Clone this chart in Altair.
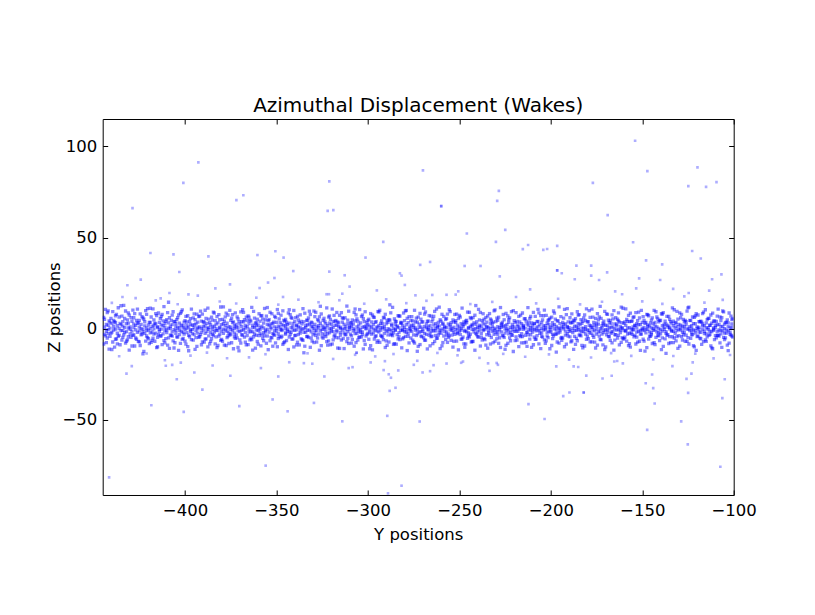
import altair as alt
import pandas as pd

TITLE = "Azimuthal Displacement (Wakes)"
X_LABEL = "Y positions"
Y_LABEL = "Z positions"
X_TICKS = [-400, -350, -300, -250, -200, -150, -100]
Y_TICKS = [-50, 0, 50, 100]
X_RANGE = [-445, -100]
Y_RANGE = [-91.2, 115]

# dense band of particles near Z = 0 : (Y position, [Z positions])
BAND_1 = [
    (-444, [0.8, -3.1, 5.2]), (-443, [-1.4, 2.3, -7.6]), (-442, [1.9, -0.5, 9.8, -2.7]),
    (-441, [-4.2, 0.3, 3.6]), (-440, [2.8, -1.9, -11.4]), (-439, [-0.7, 4.5, 1.2]),
    (-438, [3.3, -5.8, -0.2, 7.1]), (-437, [-2.5, 1.6, -8.3]), (-436, [0.1, -3.7, 6.4]),
    (-435, [2.2, -1.1, 12.6]), (-434, [-0.9, 3.9, -4.8, 1.4]), (-433, [5.6, -2.2, 0.6]),
    (-432, [-1.6, 2.7, -6.9]), (-431, [0.4, -4.4, 8.7, 3.1]), (-430, [-2.9, 1.0, -0.3]),
    (-429, [4.1, -1.3, -9.5]), (-428, [0.7, 2.5, -3.4, 6.0]), (-427, [-5.1, 1.8, -0.6]),
    (-426, [3.0, -2.0, 10.7]), (-425, [-1.2, 0.9, -7.2, 4.6]), (-424, [2.4, -3.3, 0.2]),
    (-423, [-0.4, 5.9, -1.7, -13.8]), (-422, [1.5, -2.6, 3.8]), (-421, [-4.0, 0.5, 7.9, -1.0]),
    (-420, [2.0, -0.8, -5.5]), (-419, [0.0, 3.4, -2.3, 11.2]), (-418, [-1.8, 1.3, -6.4]),
    (-417, [4.8, -0.1, -3.0, 1.9]), (-416, [-2.4, 2.6, 8.3]), (-415, [0.6, -4.7, 1.1, -9.9]),
    (-414, [3.5, -1.5, -0.4]), (-413, [-0.2, 2.1, -3.9, 6.7]), (-412, [1.7, -2.8, 4.3]),
    (-411, [-1.1, 0.8, -7.8, 2.9]), (-410, [5.0, -0.6, -2.1]), (-409, [0.3, 3.2, -5.0, 14.5]),
    (-408, [-3.5, 1.4, 0.0]), (-407, [2.3, -1.7, 7.4, -4.1]), (-406, [-0.5, 4.0, -10.6]),
    (-405, [1.2, -2.5, 2.8, -0.9]), (-404, [-4.6, 0.4, 6.1]), (-403, [3.1, -1.0, -3.2, 0.9]),
    (-402, [-1.5, 2.0, 9.3]), (-401, [0.5, -5.3, 1.6, -2.0]), (-400, [4.4, -0.3, -6.8]),
    (-399, [-2.1, 1.9, 0.2, 3.7]), (-398, [0.9, -3.6, -12.1]), (-397, [-0.6, 2.4, 5.5, -1.4]),
    (-396, [1.8, -2.7, -0.5]), (-395, [-3.2, 0.6, 8.1, 2.2]), (-394, [2.6, -1.2, -4.9]),
    (-393, [-0.1, 3.6, -2.4, 0.7]), (-392, [1.0, -4.3, 6.9]), (-391, [-1.9, 0.2, 4.2, -8.8]),
    (-390, [3.8, -0.7, 1.3]), (-389, [-2.6, 1.5, -5.7, 10.1]), (-388, [0.2, 2.9, -1.6]),
    (-387, [-3.9, 0.7, 5.3, -0.4]), (-386, [2.1, -2.2, -7.0]), (-385, [-0.3, 4.7, 1.0, -3.1]),
    (-384, [1.4, -1.8, 8.6]), (-383, [-4.5, 0.1, 2.5, -1.1]), (-382, [3.2, -0.9, -9.2]),
    (-381, [0.8, -3.0, 4.9, 0.3]), (-380, [-1.3, 2.2, -5.9]), (-379, [2.7, -0.2, -2.6, 12.0]),
    (-378, [-0.8, 1.7, 6.5]), (-377, [0.4, -4.9, 3.0, -1.5]), (-376, [-2.3, 1.1, -8.1]),
    (-375, [4.6, -0.4, 0.8, -2.9]), (-374, [-1.0, 3.3, 7.7]), (-373, [1.6, -2.4, -4.4, 0.0]),
    (-372, [-3.4, 0.9, 2.3]), (-371, [0.6, 5.4, -1.2, -10.3]), (-370, [2.5, -1.6, -6.2]),
    (-369, [-0.9, 1.2, 3.9, -3.3]), (-368, [3.7, -0.5, 9.0]), (-367, [-2.0, 0.3, -7.4, 1.8]),
    (-366, [1.1, -3.8, 4.4]), (-365, [-0.2, 2.8, -1.9, 6.3]), (-364, [4.2, -1.4, -5.2]),
    (-363, [-1.7, 0.6, 2.0, -11.7]), (-362, [0.9, -2.9, 5.8]), (-361, [-3.6, 1.6, -0.7, 3.4]),
    (-360, [2.0, -1.0, -8.5]), (-359, [-0.5, 4.1, 0.5, -2.5]),
]
BAND_2 = [
    (-358, [1.3, -3.5, 7.2]), (-357, [-2.2, 0.4, 3.1, -6.6]), (-356, [4.9, -0.8, -1.8]),
    (-355, [-0.3, 2.3, -4.0, 11.6]), (-354, [1.9, -1.9, 5.0]), (-353, [-4.8, 0.8, -0.1, 2.6]),
    (-352, [2.9, -2.6, -9.6]), (-351, [-1.1, 1.0, 6.8, -3.6]), (-350, [0.2, 3.5, -1.3]),
    (-349, [-2.8, 1.4, -5.4, 8.4]), (-348, [3.4, -0.6, 0.9]), (-347, [-0.4, -4.1, 2.4, -1.0]),
    (-346, [1.6, 4.6, -7.7]), (-345, [-3.0, 0.0, 1.7, -2.3, 5.1]), (-344, [2.2, -1.5, -0.2]),
    (-343, [-1.4, 3.0, -4.6, 10.4]), (-342, [0.7, -2.1, 6.2]), (-341, [-5.6, 1.2, 2.9, -0.6]),
    (-340, [3.9, -0.9, -3.8]), (-339, [-0.6, 2.0, -8.9, 1.5]), (-338, [1.0, -3.2, 4.8]),
    (-337, [-2.4, 0.5, 7.6, -1.2]), (-336, [2.6, -0.3, -6.0]), (-335, [0.1, 3.8, -2.0, -13.2]),
    (-334, [-1.9, 1.8, 0.6]), (-333, [4.5, -4.2, -0.9, 2.1]), (-332, [-0.7, 2.6, 9.6]),
    (-331, [1.4, -1.7, -5.1, 3.6]), (-330, [-3.3, 0.2, 1.1]), (-329, [2.4, -2.4, 6.6, -0.8]),
    (-328, [-1.0, 0.9, -7.3]), (-327, [0.5, 4.3, -3.0, 1.7]), (-326, [3.0, -1.1, 12.3]),
    (-325, [-2.7, 1.5, -0.4, -4.5]), (-324, [0.8, -0.2, 5.7]), (-323, [-4.3, 2.7, -1.5, 0.4]),
    (-322, [1.7, -2.8, -9.0]), (-321, [-0.1, 3.1, 7.0, -2.2]), (-320, [2.3, -1.3, 0.1]),
    (-319, [-1.6, 0.7, -6.1, 4.0]), (-318, [4.0, -3.4, 1.9]), (-317, [-0.8, 1.9, -1.7, 8.9]),
    (-316, [1.2, -5.0, 3.2]), (-315, [-2.1, 0.1, -3.5, 0.8]), (-314, [3.6, -0.6, 6.0]),
    (-313, [0.3, -2.3, -10.9, 2.4]), (-312, [-3.1, 1.3, -0.3]), (-311, [2.8, -1.6, 4.7, -5.3]),
    (-310, [-0.5, 0.6, 1.3]), (-309, [1.5, -3.9, -7.9, 3.3]), (-308, [-1.2, 2.5, 0.2]),
    (-307, [4.3, -0.7, -2.7, 10.8]), (-306, [-2.5, 1.0, 5.4]), (-305, [0.0, -1.4, -4.7, 2.0]),
    (-304, [3.2, -2.0, -0.6]), (-303, [-1.8, 0.8, 7.5, -3.2]), (-302, [1.1, 3.9, -6.5]),
    (-301, [-4.0, -0.1, 1.6, 0.3]), (-300, [2.1, -2.5, 4.5]), (-299, [-0.6, 1.4, -1.9, -11.0]),
    (-298, [0.9, -3.0, 3.7]), (-297, [-2.3, 2.2, 6.4, -0.2]), (-296, [3.5, -0.8, -4.3]),
    (-295, [-1.3, 0.4, 1.0, -7.5]), (-294, [1.8, -1.8, 9.2]), (-293, [-3.7, 2.9, -0.8, 0.5]),
    (-292, [0.6, -4.5, 2.7]), (-291, [-0.2, 1.1, 5.9, -2.6]), (-290, [2.7, -1.2, -6.7]),
    (-289, [-1.5, 3.4, 0.0, -3.4]), (-288, [4.7, -0.4, 13.1]), (-287, [-2.9, 1.7, -1.1, 2.5]),
    (-286, [0.3, -2.2, -8.6]), (-285, [-0.9, 2.4, 4.1, -0.5]), (-284, [1.5, -3.3, 0.9]),
    (-283, [-4.4, 0.5, -2.1, 7.0]), (-282, [2.9, -1.0, 3.5]), (-281, [-0.3, 1.6, -5.6, -0.9]),
    (-280, [0.7, 4.4, -1.6]), (-279, [-2.0, -0.5, 2.2, 10.0]), (-278, [3.3, -2.7, -4.2]),
    (-277, [-1.1, 0.3, 1.4, -0.3]), (-276, [1.9, -1.5, 6.6]), (-275, [-3.4, 2.0, -7.1, 0.6]),
    (-274, [0.4, -0.8, 3.8]), (-273, [-0.7, 3.6, -2.8, -12.4]),
]
BAND_3 = [
    (-272, [2.5, -1.9, 0.7]), (-271, [-1.6, 0.9, 5.2, -4.0]), (-270, [3.8, -0.2, -1.4]),
    (-269, [-2.6, 1.2, -6.3, 8.0]), (-268, [0.5, -3.1, 2.6]), (-267, [-0.4, 4.2, -0.7, 1.0]),
    (-266, [1.7, -2.4, -9.4]), (-265, [-4.1, 0.0, 3.9, -1.3]), (-264, [2.0, -1.1, 6.8]),
    (-263, [-1.2, 2.8, -3.7, 0.2]), (-262, [0.8, -5.2, 1.5]), (-261, [-2.2, 1.5, -0.6, 11.8]),
    (-260, [4.1, -0.9, -2.5]), (-259, [-0.1, 2.3, -7.6, 3.0]), (-258, [1.3, -1.6, 0.4]),
    (-257, [-3.5, 0.6, 5.6, -1.8]), (-256, [2.6, -2.9, -4.8]), (-255, [-0.6, 1.0, 2.1, 9.4]),
    (-254, [0.1, -3.5, -1.0]), (-253, [-1.9, 3.7, 0.8, -6.9]), (-252, [3.4, -0.5, 4.4]),
    (-251, [-2.7, 1.9, -2.2, -0.1]), (-250, [1.0, -1.3, 7.3]), (-249, [-0.8, 0.2, -5.8, 2.8]),
    (-248, [2.2, -4.6, 1.2]), (-247, [-1.4, 2.6, -0.9, -10.2]), (-246, [4.6, -1.7, 3.3]),
    (-245, [0.2, -2.3, 0.6, -3.9]), (-244, [-3.0, 1.3, 6.1]), (-243, [1.6, -0.4, -7.0, 2.3]),
    (-242, [-0.3, 3.2, -1.8]), (-241, [2.4, -2.6, 0.1, 12.7]), (-240, [-1.7, 0.7, -4.4]),
    (-239, [0.9, 4.8, -0.8, 1.9]), (-238, [-4.7, 1.4, -2.7]), (-237, [3.1, -1.0, 8.2, -0.2]),
    (-236, [-0.5, 2.1, -6.0]), (-235, [1.2, -3.3, 3.6, 0.5]), (-234, [-2.3, 0.8, -1.2]),
    (-233, [0.0, 3.0, -8.4, 5.3]), (-232, [2.8, -1.4, 1.1]), (-231, [-1.0, 0.3, -3.1, 9.8]),
    (-230, [3.9, -2.2, -0.3]), (-229, [-3.3, 1.1, 4.6, -1.6]), (-228, [0.6, -0.6, -5.0]),
    (-227, [-1.8, 2.7, 0.8, 2.0]), (-226, [1.4, -4.0, 7.8]), (-225, [-0.2, 1.6, -2.4, -11.3]),
    (-224, [2.3, -1.1, 0.3]), (-223, [-2.8, 3.5, -0.7, 5.0]), (-222, [0.7, -2.0, -6.6]),
    (-221, [-0.6, 0.9, 2.4, -3.6]), (-220, [4.4, -1.5, 1.0]), (-219, [-1.3, -0.2, -4.5, 8.8]),
    (-218, [1.1, 2.1, -1.4]), (-217, [-3.8, 0.4, 3.7, -0.4]), (-216, [2.7, -2.7, -7.8]),
    (-215, [-0.4, 1.8, 0.6, 1.3]), (-214, [0.3, -3.6, 5.5]), (-213, [-2.0, 2.5, -1.9, -9.7]),
    (-212, [3.6, -0.3, 1.8]), (-211, [-1.1, 0.6, -3.3, 6.7]), (-210, [1.8, -1.8, 0.0]),
    (-209, [-4.6, 2.9, -0.5, 2.6]), (-208, [0.4, -1.2, -5.7]), (-207, [-0.7, 4.0, 1.3, 10.6]),
    (-206, [2.1, -2.6, -1.1]), (-205, [-2.4, 0.2, 3.4, -4.2]), (-204, [1.5, -0.7, 7.1]),
    (-203, [-0.3, 1.7, -8.0, 0.4]), (-202, [3.0, -3.9, -2.0]), (-201, [-1.5, 0.5, 2.3, 4.9]),
    (-200, [0.8, -1.9, -0.6]), (-199, [-3.1, 3.3, -5.4, 1.6]), (-198, [2.2, -0.1, 8.5]),
    (-197, [-0.8, 1.2, -2.9, -12.8]), (-196, [4.3, -2.4, 0.5]), (-195, [-1.9, 0.1, 2.8, -0.8]),
    (-194, [1.0, -4.8, -6.4]), (-193, [-0.1, 2.4, 5.8, 0.9]), (-192, [2.6, -1.3, -3.5]),
    (-191, [-2.7, 0.8, 1.2, 11.0]), (-190, [0.6, -0.4, -1.5]), (-189, [-1.2, 3.6, -7.2, 3.1]),
    (-188, [3.5, -2.1, 0.2]), (-187, [-4.2, 1.4, 4.3, -1.0]),
]
BAND_4 = [
    (-186, [1.2, -0.9, -5.3]), (-185, [-0.5, 2.8, 0.7, 7.4]), (-184, [2.4, -3.4, -1.2]),
    (-183, [-1.6, 0.3, 3.0, -9.1]), (-182, [0.2, -1.6, 5.9]), (-181, [-2.9, 4.5, -0.3, 1.1]),
    (-180, [3.7, -0.7, -4.1]), (-179, [-0.9, 1.9, -2.2, 9.9]), (-178, [1.6, -2.5, 0.8]),
    (-177, [-3.6, 0.7, 6.3, -0.6]), (-176, [2.0, -1.2, -7.4]), (-175, [-0.2, 3.1, 1.4, -3.0]),
    (-174, [4.8, -1.8, 2.5]), (-173, [-1.4, 0.0, -5.9, 12.2]), (-172, [0.5, -3.0, 1.7]),
    (-171, [-2.1, 2.3, -0.9, 4.2]), (-170, [1.9, -0.5, -10.0]), (-169, [-0.6, 1.5, 7.9, -1.9]),
    (-168, [3.3, -4.4, 0.4]), (-167, [-1.7, 0.9, -2.6, 2.9]), (-166, [0.9, -1.4, 5.4]),
    (-165, [-3.2, 2.6, -0.1, -6.3]), (-164, [2.5, -0.8, 1.5]), (-163, [-0.4, 4.3, -3.7, 8.7]),
    (-162, [1.3, -2.1, -0.7]), (-161, [-4.9, 0.6, 3.3, 0.1]), (-160, [2.9, -1.0, -5.6]),
    (-159, [-1.0, 1.8, -1.3, 10.9]), (-158, [0.3, -2.9, 4.0]), (-157, [-2.5, 3.9, 0.6, -8.2]),
    (-156, [4.0, -0.2, -2.3]), (-155, [-0.7, 1.0, 6.2, -0.4]), (-154, [1.7, -3.7, 1.9]),
    (-153, [-1.8, 0.4, -4.6, 2.7]), (-152, [2.2, -1.5, 9.1]), (-151, [-3.0, 2.2, -1.0, -11.9]),
    (-150, [0.1, -0.6, 3.5]), (-149, [-1.1, 4.6, -6.8, 0.7]), (-148, [3.4, -2.3, -0.4]),
    (-147, [-0.3, 1.3, 2.1, 7.7]), (-146, [1.5, -4.1, -1.7]), (-145, [-2.3, 0.5, 4.7, -3.3]),
    (-144, [2.7, -0.9, 0.0]), (-143, [-0.6, 3.4, -8.7, 1.4]), (-142, [1.0, -1.7, 6.4]),
    (-141, [-3.9, 0.2, -2.0, 3.8]), (-140, [4.5, -2.8, -0.5]), (-139, [-1.3, 1.6, 8.0, -5.0]),
    (-138, [0.7, -0.3, 2.4]), (-137, [-2.6, 2.5, -1.6, -13.5]), (-136, [1.8, -3.2, 0.9]),
    (-135, [-0.1, 0.8, 5.1, -4.3]), (-134, [3.1, -1.3, -0.8]), (-133, [-1.5, 4.1, 1.6, -7.6]),
    (-132, [0.4, -2.5, 3.0]), (-131, [-4.3, 1.1, -1.1, 9.5]), (-130, [2.3, -0.4, -3.8]),
    (-129, [-0.8, 2.0, 0.3, 6.0]), (-128, [1.4, -1.9, -6.2]), (-127, [-2.2, 3.7, -0.2, 1.2]),
    (-126, [3.9, -3.5, 2.2]), (-125, [-0.4, 0.1, -4.9, 11.4]), (-124, [1.1, -1.1, 4.6]),
    (-123, [-3.4, 1.7, -1.8, 0.0]), (-122, [2.8, -0.6, -9.3]), (-121, [-1.1, 2.7, 7.0, -2.4]),
    (-120, [0.2, -4.3, 1.0]), (-119, [-1.9, 0.7, -0.3, 3.9]), (-118, [4.2, -2.0, -5.5]),
    (-117, [-0.5, 1.4, 2.6, 8.3]), (-116, [1.7, -2.7, -1.4]), (-115, [-2.8, 3.2, 0.5, -7.0]),
    (-114, [0.6, -0.5, 5.7]), (-113, [-1.4, 1.9, -3.1, 1.8]), (-112, [3.0, -1.6, -10.5]),
    (-111, [-0.2, 0.4, 4.1, -0.9]), (-110, [1.9, -3.8, 0.6]), (-109, [-3.6, 2.1, -1.5, 6.9]),
    (-108, [2.4, -0.7, -4.0]), (-107, [-0.9, 4.4, 1.1, -2.8]), (-106, [1.2, -1.2, 9.7]),
    (-105, [-2.4, 0.0, -6.0, 2.5]), (-104, [3.6, -2.4, -0.6]), (-103, [-1.2, 1.3, 3.2, -12.0]),
    (-102, [0.5, -3.1, -1.9]), (-101, [-4.0, 2.6, 0.8, 5.0]),
]

# wider body of the band
BAND_5 = [
    (-444.5, [6.2, -8.4]), (-443.5, [-3.9, 10.6]), (-442.5, [8.9, -5.1]), (-441.5, [-11.2, 4.3]),
    (-440.5, [5.7, -2.6]), (-439.5, [-7.3, 9.4]), (-438.5, [3.8, -10.1]), (-437.5, [-5.6, 7.9]),
    (-436.5, [11.5, -4.2]), (-435.5, [-8.8, 2.9]), (-434.5, [6.9, -6.3]), (-433.5, [-3.4, 12.8]),
    (-432.5, [9.7, -7.9]), (-431.5, [-6.1, 4.8]), (-430.5, [7.4, -11.7]), (-429.5, [-4.7, 6.1]),
    (-428.5, [10.2, -3.6]), (-427.5, [-9.5, 8.3]), (-426.5, [4.5, -5.8]), (-425.5, [-7.0, 3.2]),
    (-424.5, [8.1, -9.2]), (-423.5, [-2.9, 6.6]), (-422.5, [5.3, -12.4]), (-421.5, [-6.8, 9.9]),
    (-420.5, [11.0, -4.9]), (-419.5, [-8.1, 3.5]), (-418.5, [6.4, -7.5]), (-417.5, [-5.2, 10.9]),
    (-416.5, [3.1, -6.9]), (-415.5, [-10.4, 7.2]), (-414.5, [8.6, -3.3]), (-413.5, [-4.0, 5.5]),
    (-412.5, [7.8, -8.7]), (-411.5, [-6.5, 12.1]), (-410.5, [4.1, -5.4]), (-409.5, [-9.0, 8.8]),
    (-408.5, [6.0, -10.8]), (-407.5, [-3.7, 4.6]), (-406.5, [9.3, -6.7]), (-405.5, [-7.7, 3.9]),
    (-404.5, [5.0, -4.5]), (-403.5, [-11.9, 7.6]), (-402.5, [8.4, -8.0]), (-401.5, [-5.9, 10.3]),
    (-400.5, [3.6, -3.0]), (-399.5, [-8.5, 6.8]), (-398.5, [7.1, -9.8]), (-397.5, [-4.4, 4.0]),
    (-396.5, [10.7, -6.0]), (-395.5, [-6.3, 5.9]), (-394.5, [4.9, -11.3]), (-393.5, [-9.7, 8.0]),
    (-392.5, [6.7, -4.7]), (-391.5, [-3.2, 9.6]), (-390.5, [8.0, -7.2]), (-389.5, [-7.4, 3.4]),
    (-388.5, [5.6, -5.6]), (-387.5, [-10.0, 11.3]), (-386.5, [3.3, -8.3]), (-385.5, [-5.5, 6.3]),
    (-384.5, [9.1, -3.8]), (-383.5, [-8.3, 4.4]), (-382.5, [6.6, -10.4]), (-381.5, [-4.1, 7.7]),
    (-380.5, [11.9, -6.4]), (-379.5, [-6.9, 5.1]), (-378.5, [4.2, -9.0]), (-377.5, [-9.2, 8.5]),
    (-376.5, [7.5, -4.0]), (-375.5, [-3.5, 10.0]), (-374.5, [5.8, -7.7]), (-373.5, [-11.0, 3.7]),
    (-372.5, [8.7, -5.3]), (-371.5, [-5.0, 6.5]), (-370.5, [3.9, -12.2]), (-369.5, [-7.9, 9.2]),
    (-368.5, [10.4, -3.5]), (-367.5, [-4.6, 4.9]), (-366.5, [6.3, -8.9]), (-365.5, [-8.7, 7.0]),
    (-364.5, [4.7, -6.1]), (-363.5, [-6.0, 11.7]), (-362.5, [9.5, -4.4]), (-361.5, [-10.7, 3.0]),
    (-360.5, [5.2, -7.0]), (-359.5, [-3.8, 8.2]),
]
BAND_6 = [
    (-358.5, [7.0, -9.4]), (-357.5, [-5.3, 5.3]), (-356.5, [11.1, -3.9]), (-355.5, [-8.0, 6.9]),
    (-354.5, [4.4, -11.5]), (-353.5, [-6.6, 9.0]), (-352.5, [8.2, -5.0]), (-351.5, [-3.1, 3.6]),
    (-350.5, [6.1, -7.8]), (-349.5, [-9.9, 10.5]), (-348.5, [5.4, -4.3]), (-347.5, [-4.8, 7.4]),
    (-346.5, [9.8, -8.6]), (-345.5, [-7.2, 4.2]), (-344.5, [3.5, -6.5]), (-343.5, [-11.4, 8.6]),
    (-342.5, [7.7, -3.2]), (-341.5, [-5.7, 5.7]), (-340.5, [10.0, -10.0]), (-339.5, [-3.6, 6.0]),
    (-338.5, [6.8, -7.4]), (-337.5, [-8.9, 3.3]), (-336.5, [4.0, -5.5]), (-335.5, [-6.4, 11.0]),
    (-334.5, [8.5, -9.6]), (-333.5, [-4.3, 4.7]), (-332.5, [5.9, -4.8]), (-331.5, [-10.2, 7.8]),
    (-330.5, [3.2, -6.8]), (-329.5, [-7.6, 9.7]), (-328.5, [9.0, -3.7]), (-327.5, [-5.1, 5.0]),
    (-326.5, [6.5, -11.8]), (-325.5, [-9.3, 8.1]), (-324.5, [4.6, -5.2]), (-323.5, [-3.3, 3.8]),
    (-322.5, [11.4, -7.1]), (-321.5, [-6.7, 6.4]), (-320.5, [5.1, -8.8]), (-319.5, [-8.4, 10.8]),
    (-318.5, [7.3, -4.1]), (-317.5, [-4.9, 4.5]), (-316.5, [3.7, -10.6]), (-315.5, [-10.8, 7.3]),
    (-314.5, [8.8, -6.2]), (-313.5, [-5.4, 5.6]), (-312.5, [6.0, -3.4]), (-311.5, [-7.1, 12.4]),
    (-310.5, [9.6, -8.1]), (-309.5, [-3.0, 3.1]), (-308.5, [4.8, -5.9]), (-307.5, [-9.6, 8.9]),
    (-306.5, [7.6, -7.6]), (-305.5, [-6.2, 4.1]), (-304.5, [10.5, -4.6]), (-303.5, [-4.5, 6.7]),
    (-302.5, [5.5, -11.1]), (-301.5, [-8.6, 9.3]), (-300.5, [3.4, -3.1]), (-299.5, [-5.8, 5.2]),
    (-298.5, [8.3, -9.3]), (-297.5, [-11.6, 7.5]), (-296.5, [6.2, -5.7]), (-295.5, [-3.9, 3.9]),
    (-294.5, [9.4, -6.6]), (-293.5, [-7.5, 10.1]), (-292.5, [4.3, -4.2]), (-291.5, [-6.0, 6.2]),
    (-290.5, [7.9, -10.3]), (-289.5, [-9.1, 4.6]), (-288.5, [5.0, -7.3]), (-287.5, [-3.4, 8.7]),
    (-286.5, [11.7, -3.8]), (-285.5, [-8.2, 5.4]), (-284.5, [3.9, -8.5]), (-283.5, [-5.6, 7.1]),
    (-282.5, [6.9, -6.0]), (-281.5, [-10.5, 3.2]), (-280.5, [8.6, -4.9]), (-279.5, [-4.2, 9.8]),
    (-278.5, [5.7, -12.0]), (-277.5, [-7.8, 6.6]), (-276.5, [4.5, -5.1]), (-275.5, [-6.3, 4.3]),
    (-274.5, [10.1, -7.9]), (-273.5, [-3.7, 5.8]),
]
BAND_7 = [
    (-272.5, [6.4, -9.7]), (-271.5, [-8.7, 8.4]), (-270.5, [3.6, -4.4]), (-269.5, [-5.0, 11.2]),
    (-268.5, [9.2, -6.3]), (-267.5, [-11.1, 4.0]), (-266.5, [7.2, -3.6]), (-265.5, [-4.4, 6.9]),
    (-264.5, [5.3, -8.2]), (-263.5, [-7.0, 9.5]), (-262.5, [10.8, -5.3]), (-261.5, [-3.5, 3.5]),
    (-260.5, [4.9, -10.9]), (-259.5, [-9.4, 7.9]), (-258.5, [6.7, -4.0]), (-257.5, [-5.9, 5.1]),
    (-256.5, [8.0, -7.5]), (-255.5, [-4.0, 10.4]), (-254.5, [3.3, -6.4]), (-253.5, [-10.1, 4.8]),
    (-252.5, [7.8, -3.1]), (-251.5, [-6.8, 8.0]), (-250.5, [5.6, -11.6]), (-249.5, [-3.2, 6.4]),
    (-248.5, [11.3, -5.6]), (-247.5, [-8.3, 3.7]), (-246.5, [4.2, -8.4]), (-245.5, [-5.3, 9.1]),
    (-244.5, [9.0, -4.5]), (-243.5, [-7.3, 5.5]), (-242.5, [6.1, -7.0]), (-241.5, [-11.8, 7.4]),
    (-240.5, [3.8, -3.3]), (-239.5, [-4.6, 10.6]), (-238.5, [8.9, -9.5]), (-237.5, [-6.2, 4.4]),
    (-236.5, [5.2, -5.4]), (-235.5, [-9.0, 6.1]), (-234.5, [7.0, -10.7]), (-233.5, [-3.6, 8.3]),
    (-232.5, [4.6, -4.8]), (-231.5, [-7.7, 3.6]), (-230.5, [10.3, -6.9]), (-229.5, [-5.5, 5.8]),
    (-228.5, [6.3, -8.0]), (-227.5, [-10.3, 11.6]), (-226.5, [3.5, -3.7]), (-225.5, [-4.8, 4.9]),
    (-224.5, [8.4, -9.1]), (-223.5, [-8.0, 7.0]), (-222.5, [5.9, -5.0]), (-221.5, [-3.3, 9.4]),
    (-220.5, [9.9, -12.5]), (-219.5, [-6.5, 3.3]), (-218.5, [4.0, -6.2]), (-217.5, [-9.8, 6.8]),
    (-216.5, [7.4, -4.3]), (-215.5, [-4.3, 8.6]), (-214.5, [5.4, -7.7]), (-213.5, [-7.4, 4.2]),
    (-212.5, [11.6, -3.4]), (-211.5, [-5.7, 5.6]), (-210.5, [3.2, -10.2]), (-209.5, [-8.8, 9.0]),
    (-208.5, [6.8, -5.8]), (-207.5, [-3.8, 3.8]), (-206.5, [8.7, -8.3]), (-205.5, [-10.9, 7.2]),
    (-204.5, [4.8, -4.6]), (-203.5, [-6.1, 10.2]), (-202.5, [7.3, -6.7]), (-201.5, [-4.9, 4.5]),
    (-200.5, [5.8, -11.0]), (-199.5, [-9.2, 6.3]), (-198.5, [9.7, -3.9]), (-197.5, [-3.0, 5.3]),
    (-196.5, [4.3, -7.3]), (-195.5, [-7.9, 12.0]), (-194.5, [6.6, -5.2]), (-193.5, [-5.2, 3.4]),
    (-192.5, [10.6, -9.9]), (-191.5, [-8.5, 7.7]), (-190.5, [3.7, -4.1]), (-189.5, [-4.5, 6.0]),
    (-188.5, [8.1, -6.6]), (-187.5, [-11.3, 4.7]),
]
BAND_8 = [
    (-186.5, [5.5, -8.6]), (-185.5, [-6.6, 9.3]), (-184.5, [7.7, -3.5]), (-183.5, [-3.9, 5.0]),
    (-182.5, [4.1, -10.5]), (-181.5, [-9.5, 7.6]), (-180.5, [10.9, -5.9]), (-179.5, [-5.4, 3.9]),
    (-178.5, [6.2, -7.2]), (-177.5, [-7.2, 10.7]), (-176.5, [3.4, -4.7]), (-175.5, [-10.6, 5.7]),
    (-174.5, [8.3, -9.0]), (-173.5, [-4.1, 6.5]), (-172.5, [5.7, -6.1]), (-171.5, [-8.9, 3.1]),
    (-170.5, [9.5, -11.4]), (-169.5, [-3.4, 8.1]), (-168.5, [4.7, -4.2]), (-167.5, [-6.4, 4.6]),
    (-166.5, [7.6, -7.8]), (-165.5, [-11.7, 9.9]), (-164.5, [6.0, -3.3]), (-163.5, [-5.1, 5.2]),
    (-162.5, [3.6, -8.9]), (-161.5, [-7.5, 11.8]), (-160.5, [11.2, -5.5]), (-159.5, [-4.7, 3.7]),
    (-158.5, [5.1, -6.8]), (-157.5, [-9.3, 7.3]), (-156.5, [8.5, -10.1]), (-155.5, [-3.1, 4.3]),
    (-154.5, [6.5, -4.4]), (-153.5, [-8.4, 8.8]), (-152.5, [4.4, -7.4]), (-151.5, [-6.9, 5.9]),
    (-150.5, [10.0, -3.0]), (-149.5, [-5.8, 6.6]), (-148.5, [3.0, -12.3]), (-147.5, [-10.4, 7.8]),
    (-146.5, [7.1, -5.7]), (-145.5, [-4.2, 3.2]), (-144.5, [5.9, -8.1]), (-143.5, [-7.6, 10.0]),
    (-142.5, [9.3, -4.8]), (-141.5, [-3.6, 5.4]), (-140.5, [4.6, -6.5]), (-139.5, [-11.5, 8.2]),
    (-138.5, [8.8, -9.7]), (-137.5, [-5.6, 4.1]), (-136.5, [6.8, -3.6]), (-135.5, [-8.1, 6.7]),
    (-134.5, [3.9, -7.6]), (-133.5, [-4.4, 11.4]), (-132.5, [10.4, -5.1]), (-131.5, [-6.7, 3.5]),
    (-130.5, [5.3, -10.8]), (-129.5, [-9.6, 8.7]), (-128.5, [7.9, -4.3]), (-127.5, [-3.3, 5.1]),
    (-126.5, [4.5, -6.9]), (-125.5, [-7.0, 9.6]), (-124.5, [11.8, -8.4]), (-123.5, [-5.3, 4.4]),
    (-122.5, [6.4, -3.2]), (-121.5, [-10.0, 6.2]), (-120.5, [8.2, -11.9]), (-119.5, [-4.0, 7.5]),
    (-118.5, [3.8, -5.2]), (-117.5, [-8.6, 3.6]), (-116.5, [9.1, -7.1]), (-115.5, [-6.1, 10.4]),
    (-114.5, [5.0, -4.5]), (-113.5, [-3.7, 5.7]), (-112.5, [7.5, -9.4]), (-111.5, [-11.0, 8.5]),
    (-110.5, [4.3, -6.0]), (-109.5, [-5.0, 4.0]), (-108.5, [10.7, -3.7]), (-107.5, [-7.8, 6.4]),
    (-106.5, [6.1, -10.2]), (-105.5, [-4.8, 9.2]), (-104.5, [3.3, -5.0]), (-103.5, [-9.0, 4.8]),
    (-102.5, [8.6, -7.9]), (-101.5, [-3.5, 6.9]), (-100.5, [5.6, -4.6]),
]

# light fringe of the band
FRINGE_X = [-440, -436, -427, -421, -416, -411, -404, -397, -393, -388,
            -381, -377, -372, -365, -361, -356, -349, -343, -338, -333,
            -327, -319, -314, -307, -302, -296, -290, -286, -279, -273,
            -268, -262, -257, -251, -244, -239, -232, -226, -219, -214,
            -208, -201, -196, -190, -184, -178, -172, -167, -161, -156,
            -150, -144, -139, -133, -127, -121, -116, -111, -106, -102]
FRINGE_Y = [14.2, -15.1, 16.8, -13.6, 15.5, -17.3, 13.4, -14.8, 18.1, -13.1,
            14.9, -16.2, 13.8, -15.7, 17.0, -14.0, 13.2, -18.4, 15.9, -13.5,
            14.5, -16.6, 19.2, -14.3, 13.7, -15.2, 16.1, -13.9, 14.0, -17.6,
            15.3, -13.3, 18.6, -14.6, 13.5, -16.0, 14.7, -13.8, 17.4, -15.4,
            13.9, -14.1, 16.4, -17.0, 13.3, -15.8, 14.8, -13.4, 18.9, -14.9,
            15.0, -16.9, 13.6, -15.0, 17.7, -13.7, 14.3, -16.3, 15.8, -14.4]

# scattered particles far from the band
OUTLIERS_UPPER = [
    (-392.7, 91.2), (-400.9, 80.0), (-428.7, 66.1), (-371.9, 70.5), (-368.1, 73.2),
    (-321.1, 80.8), (-322.0, 64.6), (-318.9, 65.0), (-291.6, 47.6), (-418.9, 41.5),
    (-406.3, 40.8), (-387.2, 39.7), (-360.4, 40.4), (-350.6, 42.5), (-346.1, 39.0),
    (-301.3, 39.0), (-271.4, 35.0), (-403.1, 31.1), (-340.8, 31.6), (-321.1, 31.3),
    (-312.7, 29.3), (-424.2, 26.9), (-431.5, 23.8), (-375.4, 24.3), (-351.1, 27.8),
    (-354.6, 25.3), (-359.2, 22.3), (-383.4, 22.1), (-310.0, 23.1), (-295.1, 21.0),
    (-282.5, 30.4), (-281.6, 29.1), (-279.8, 24.0), (-408.5, 19.6), (-398.1, 18.8),
    (-346.4, 17.4), (-322.6, 18.9), (-321.3, 18.9), (-434.2, 17.4), (-413.3, 16.6),
    (-315.6, 15.6), (-274.0, 18.3),
    (-153.9, 103.1), (-269.9, 86.8), (-147.2, 86.4), (-119.8, 88.5), (-177.0, 80.0),
    (-124.8, 78.2), (-115.1, 77.8), (-109.4, 80.4), (-228.4, 75.6), (-229.3, 70.1),
    (-259.9, 67.2), (-259.9, 67.2), (-168.9, 62.3), (-245.9, 52.2), (-224.9, 54.2),
    (-230.0, 47.6), (-155.0, 47.4), (-122.7, 42.6), (-118.0, 38.5), (-215.3, 43.6),
    (-212.4, 45.9), (-204.1, 43.2), (-202.0, 43.7), (-196.5, 45.4), (-196.5, 32.0),
    (-196.5, 32.0), (-194.0, 30.4), (-147.9, 37.5), (-139.1, 35.3), (-266.0, 36.6),
    (-247.1, 34.4), (-238.4, 34.4), (-186.0, 34.6), (-177.9, 34.6), (-227.9, 28.7),
    (-177.9, 29.1), (-169.2, 30.9), (-173.6, 26.7), (-186.9, 27.1), (-151.7, 27.6),
    (-140.2, 26.7), (-106.7, 29.8), (-111.8, 27.1), (-153.3, 22.1), (-133.1, 21.8),
    (-113.4, 20.9), (-250.6, 20.5), (-252.0, 18.7), (-211.3, 21.6), (-164.8, 20.5),
    (-124.6, 19.6), (-264.8, 18.5),
]
OUTLIERS_LOWER = [
    (-441.5, -81.5), (-355.9, -75.1), (-281.6, -86.1), (-289.0, -90.3), (-400.7, -45.6),
    (-418.4, -42.0), (-370.3, -42.5), (-352.1, -38.8), (-343.9, -45.3), (-329.5, -40.7),
    (-314.0, -50.8), (-289.4, -47.8), (-271.7, -50.9), (-390.5, -33.4), (-404.5, -27.7),
    (-394.9, -24.0), (-375.2, -25.8), (-349.0, -26.2), (-323.8, -26.2), (-432.0, -24.6),
    (-429.1, -20.5), (-284.9, -32.4), (-288.1, -34.1), (-287.4, -26.9), (-288.6, -25.0),
    (-283.4, -22.9), (-291.4, -22.7), (-308.4, -21.1), (-310.5, -21.6), (-358.5, -21.6),
    (-384.9, -20.2), (-410.5, -20.3), (-407.0, -19.8), (-402.3, -18.6), (-306.2, -13.2),
    (-306.2, -13.2), (-274.9, -19.8), (-290.7, -17.8), (-330.4, -19.2), (-335.0, -18.9),
    (-298.5, -18.5),
    (-203.4, -49.5), (-147.3, -55.5), (-128.7, -50.8), (-125.1, -63.4), (-107.3, -75.7),
    (-212.2, -41.4), (-143.2, -41.0), (-193.2, -37.0), (-189.8, -35.0), (-182.0, -35.0),
    (-182.0, -35.0), (-144.0, -32.6), (-148.1, -29.9), (-124.9, -35.2), (-106.2, -38.1),
    (-104.9, -27.7), (-125.8, -27.5), (-123.1, -24.6), (-144.6, -25.1), (-166.7, -25.8),
    (-171.7, -27.3), (-180.6, -25.7), (-197.0, -20.7), (-187.5, -20.7), (-185.0, -21.0),
    (-233.5, -23.1), (-270.1, -24.0), (-266.0, -23.3), (-264.1, -20.0), (-257.0, -19.1),
    (-249.0, -18.7), (-248.0, -18.0), (-234.3, -19.0), (-229.6, -18.8), (-228.9, -19.8),
    (-160.6, -19.0), (-165.3, -18.0), (-163.7, -17.7), (-133.5, -20.5), (-122.4, -18.5),
]

band_rows = []
for band in (BAND_1, BAND_2, BAND_3, BAND_4, BAND_5, BAND_6, BAND_7, BAND_8):
    for xv, ys in band:
        for yv in ys:
            band_rows.append({"x": xv, "y": yv})
band_df = pd.DataFrame(band_rows)

sparse_rows = [{"x": xv, "y": yv} for xv, yv in zip(FRINGE_X, FRINGE_Y)]
sparse_rows += [{"x": xv, "y": yv} for xv, yv in OUTLIERS_UPPER + OUTLIERS_LOWER]
sparse_df = pd.DataFrame(sparse_rows)

FONT = "DejaVu Sans"
W, H = 631, 376

x_scale = alt.Scale(domain=X_RANGE, nice=False, zero=False)
y_scale = alt.Scale(domain=Y_RANGE, nice=False, zero=False)

common_axis = dict(
    domain=False, grid=False, tickSize=5, tickColor="black", tickWidth=1,
    offset=-5, labelFlush=False, labelOverlap=False,
)

band = alt.Chart(band_df).mark_square(
    size=11, color="#0000ff", opacity=0.48, clip=True
).encode(
    x=alt.X("x:Q", scale=x_scale, title=X_LABEL, axis=alt.Axis(
        orient="bottom", values=X_TICKS, labelFont=FONT, labelFontSize=16.5,
        labelColor="black", labelBaseline="alphabetic", labelPadding=20.7,
        titleFont=FONT, titleFontSize=16.5, titleFontWeight="normal", titleColor="black",
        titleBaseline="alphabetic", titleX=W / 2, titleY=49.7, **common_axis)),
    y=alt.Y("y:Q", scale=y_scale, title=Y_LABEL, axis=alt.Axis(
        orient="left", values=Y_TICKS, labelFont=FONT, labelFontSize=16.5,
        labelColor="black", labelPadding=6,
        titleFont=FONT, titleFontSize=16.5, titleFontWeight="normal", titleColor="black",
        titleAngle=270, titleBaseline="alphabetic", titleAlign="center",
        titleX=-48.4, titleY=H / 2, **common_axis)),
)

sparse = alt.Chart(sparse_df).mark_square(
    size=7, color="#0000ff", opacity=0.32, clip=True
).encode(
    x=alt.X("x:Q", scale=x_scale, title="", axis=alt.Axis(
        orient="top", values=X_TICKS, labels=False, **common_axis)),
    y=alt.Y("y:Q", scale=y_scale, title="", axis=alt.Axis(
        orient="right", values=Y_TICKS, labels=False, **common_axis)),
)

chart = alt.layer(band, sparse).resolve_axis(
    x="independent", y="independent"
).properties(
    width=W, height=H,
    title=alt.TitleParams(TITLE, font=FONT, fontSize=20, fontWeight="normal",
                          color="black", anchor="middle", frame="group",
                          baseline="alphabetic", offset=7, dy=20),
    autosize=alt.AutoSizeParams(type="none"),
    padding={"left": 94.7, "top": 111, "right": 70, "bottom": 90},
    background="white",
).configure_view(stroke="black", strokeWidth=1)

chart.save("out.html", embed_options={"renderer": "svg", "actions": False})
